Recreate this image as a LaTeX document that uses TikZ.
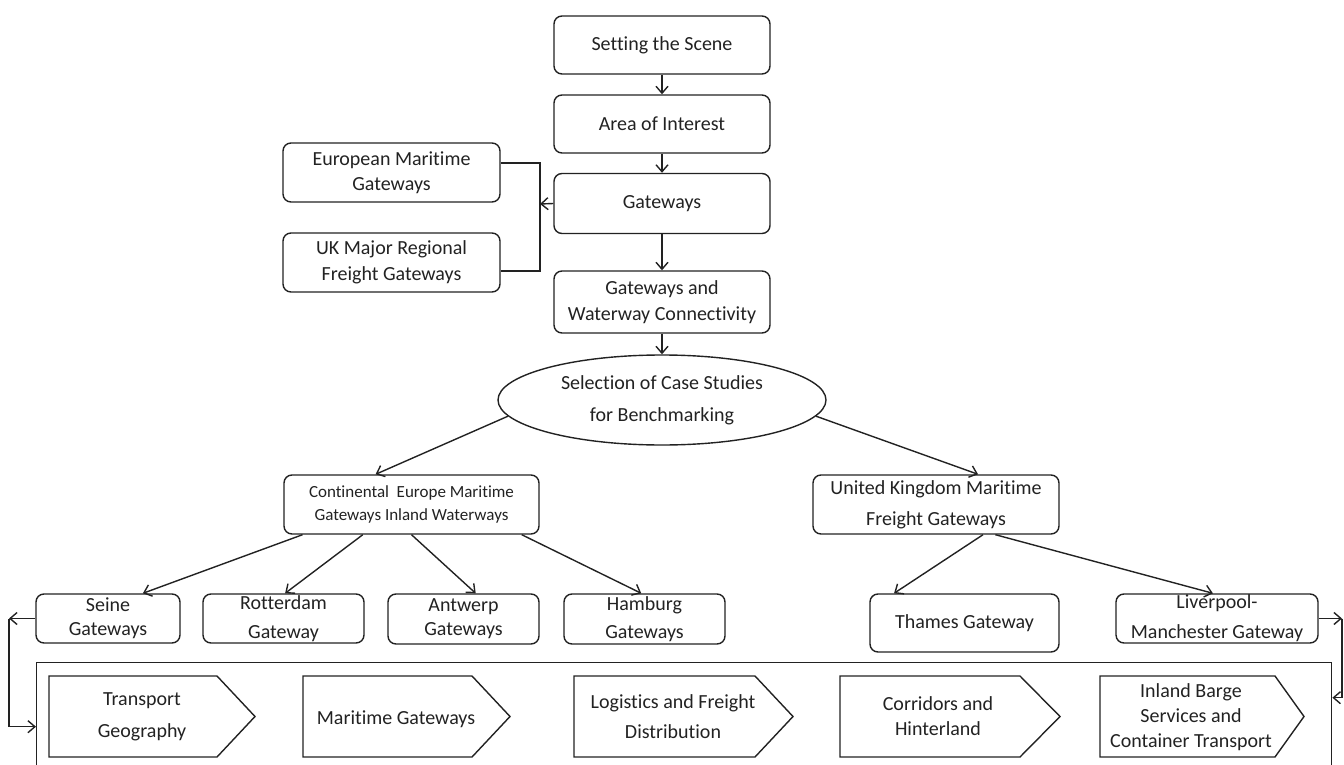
\documentclass[tikz,border=0pt]{standalone}
\usepackage{fontspec}
\setmainfont{Carlito}[Ligatures={NoCommon}]
\usetikzlibrary{arrows.meta,shapes.geometric,calc}
\definecolor{ink}{HTML}{222222}
\newcommand\fsz[2]{\fontsize{#1}{#2}\selectfont}

\begin{document}
\begin{tikzpicture}[x=0.5pt,y=-0.5pt,
  font=\fsz{10}{12.5},
  box/.style={draw=ink, line width=0.7pt, rounded corners=4pt, align=center,
              inner sep=0pt, text=ink},
  lbl/.style={align=center, inner sep=0pt, text=ink},
  arr/.style={draw=ink, line width=0.7pt, -{Straight Barb[length=3.5pt,width=6pt]}},
  link/.style={draw=ink, line width=0.7pt},
  chev/.style={draw=ink, line width=0.7pt, line join=miter}
]
\useasboundingbox (0,0) rectangle (1344,765);
\clip (0,0) rectangle (1344,765);

% ---- main column ----
\node[box, minimum width=108pt, minimum height=29pt] (scene) at (662,45) {Setting the Scene};
\node[box, minimum width=108pt, minimum height=29pt] (area) at (662,124) {Area of Interest};
\node[box, minimum width=108pt, minimum height=30pt] (gw) at (662,203.5) {Gateways};
\node[box, minimum width=108pt, minimum height=31pt, font=\fsz{10}{13}] (gwc) at (662,302)
  {Gateways and\\Waterway Connectivity};

% ---- side boxes ----
\node[box, minimum width=108.5pt, minimum height=29.5pt] (eur) at (391.5,172.5)
  {European Maritime\\Gateways};
\node[box, minimum width=108.5pt, minimum height=29.5pt, font=\fsz{10}{13}] (ukm) at (391.5,262.5)
  {UK Major Regional\\Freight Gateways};

% ---- case study selection ----
\node[draw=ink, line width=0.7pt, ellipse, minimum width=164pt, minimum height=45pt,
      inner sep=0pt, align=center, text=ink, font=\fsz{10}{16}] (sel) at (662,400)
  {Selection of Case Studies\\for Benchmarking};

\node[box, minimum width=127.5pt, minimum height=29.5pt, font=\fsz{8.5}{11.5}] (cont) at (411.5,504.5)
  {Continental~~Europe Maritime\\Gateways Inland Waterways};
\node[box, minimum width=123pt, minimum height=29.5pt, font=\fsz{10}{15.5}] (ukf) at (936,504.5)
  {United Kingdom Maritime\\Freight Gateways};

% ---- gateway row ----
\node[box, minimum width=72pt, minimum height=24.5pt, font=\fsz{10}{12}] (seine) at (108,618.5)
  {Seine\\Gateways};
\node[box, minimum width=80.5pt, minimum height=24.5pt, font=\fsz{10}{14.5}] (rott) at (283.5,618.5)
  {Rotterdam\\Gateway};
\node[box, minimum width=75.5pt, minimum height=25pt, font=\fsz{10}{12}] (antw) at (463.5,619)
  {Antwerp\\Gateways};
\node[box, minimum width=80.5pt, minimum height=25pt, font=\fsz{10}{14}] (hamb) at (644.5,619)
  {Hamburg\\Gateways};
\node[box, minimum width=94.5pt, minimum height=29pt] (thames) at (964.5,623)
  {Thames Gateway};
\node[box, minimum width=101pt, minimum height=24.5pt, font=\fsz{10}{15}] (liver) at (1217,618.5)
  {Liverpool-\\Manchester Gateway};

% ---- themes frame ----
\node[draw=ink, line width=0.7pt, minimum width=647.5pt, minimum height=64pt,
      inner sep=0pt, anchor=north west] (frame) at (36,662) {};

\foreach \l/\b/\t in {49/217/255, 303/472/510, 574/755/793, 840/1020/1060, 1100/1275/1304}
  \draw[chev] (\l,676) -- (\b,676) -- (\t,716.5) -- (\b,757) -- (\l,757) -- cycle;

\node[lbl, font=\fsz{10}{16}] (tg) at (142,716.5) {Transport\\Geography};
\node[lbl] (mg) at (396,719) {Maritime Gateways};
\node[lbl, font=\fsz{10}{15}] (lf) at (673,717) {Logistics and Freight\\Distribution};
\node[lbl, font=\fsz{10}{12.5}] (ch) at (938,716.5) {Corridors and\\Hinterland};
\node[lbl, font=\fsz{10}{12.5}] (ib) at (1191,717) {Inland Barge\\Services and\\Container Transport};

% ---- connectors ----
\draw[arr] (scene.south) -- (area.north);
\draw[arr] (area.south) -- (gw.north);
\draw[arr] (gw.south) -- (gwc.north);
\draw[arr] (gwc.south) -- (sel.north);

\coordinate (bk) at (540,204);
\draw[link] ($(eur.east)+(0,-9.5)$) -| (bk) |- ($(ukm.east)+(0,8.5)$);
\draw[arr] (gw.west) -- (bk);

\draw[arr] (sel.186) -- ($(cont.north west)!0.36!(cont.north east)$);
\draw[arr] (sel.-6) -- ($(ukf.north west)!0.67!(ukf.north east)$);

\draw[arr] ($(cont.south west)!0.075!(cont.south east)$) -- ($(seine.north west)!0.74!(seine.north east)$);
\draw[arr] ($(cont.south west)!0.31!(cont.south east)$) -- ($(rott.north west)!0.51!(rott.north east)$);
\draw[arr] ($(cont.south west)!0.50!(cont.south east)$) -- ($(antw.north west)!0.58!(antw.north east)$);
\draw[arr] ($(cont.south west)!0.93!(cont.south east)$) -- ($(hamb.north west)!0.48!(hamb.north east)$);

\draw[arr] ($(ukf.south west)!0.69!(ukf.south east)$) -- ($(thames.north west)!0.13!(thames.north east)$);
\draw[arr] ($(ukf.south west)!0.74!(ukf.south east)$) -- ($(liver.north west)!0.48!(liver.north east)$);

\coordinate (lk) at (9,618.5);
\draw[arr] (seine.west) -- (lk);
\draw[arr] (lk) |- (frame.west);

\coordinate (rk) at (1342,618.5);
\draw[arr] (liver.east) -- (rk);
\draw[arr] (rk) |- ($(frame.east)+(0,-29)$);
\end{tikzpicture}
\end{document}
